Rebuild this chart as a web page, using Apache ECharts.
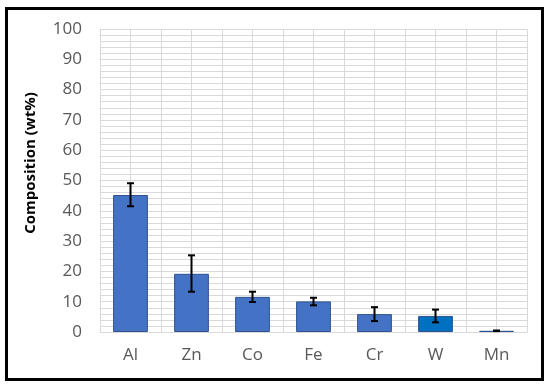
<!DOCTYPE html>
<html>
<head>
<meta charset="utf-8">
<script src="https://cdn.jsdelivr.net/npm/echarts@6/dist/echarts.min.js"></script>
<style>
  html, body { margin: 0; padding: 0; background: #fff; }
  #chart { width: 550px; height: 386px; }
</style>
</head>
<body>
<div id="chart"></div>
<script>
// element composition with std-dev error bars
const elements = ["Al", "Zn", "Co", "Fe", "Cr", "W", "Mn"];
const composition = [45.2, 19.2, 11.6, 10.1, 5.9, 5.3, 0.4];
const errLow = [41.5, 13.3, 9.9, 8.8, 3.6, 3.2, 0.3];
const errHigh = [49.1, 25.3, 13.3, 11.3, 8.2, 7.4, 0.5];
const barColors = ["#4472C4", "#4472C4", "#4472C4", "#4472C4", "#4472C4", "#0070C0", "#4472C4"];

let chartDom = document.getElementById("chart");
let myChart = echarts.init(chartDom);

const font = "'Open Sans', 'Liberation Sans', sans-serif";

let option = {
  animation: false,
  grid: { left: 100, right: 23, top: 29, bottom: 54 },
  graphic: [
    {
      type: "rect",
      shape: { x: 6.5, y: 8.5, width: 536, height: 371 },
      style: { fill: "none", stroke: "#000", lineWidth: 3 },
      z: 100,
    },
    {
      // y axis title, Excel puts it a bit above the plot centre
      type: "text",
      x: 31,
      y: 163,
      rotation: Math.PI / 2,
      style: {
        text: "Composition (wt%)",
        fill: "#000",
        font: "bold 15px " + font,
        align: "center",
        verticalAlign: "middle",
      },
    },
  ],
  xAxis: [
    {
      type: "category",
      data: elements,
      axisLine: { show: true, lineStyle: { color: "#d9d9d9", width: 1 } },
      axisTick: { show: false },
      axisLabel: { color: "#595959", fontSize: 17, fontFamily: font, margin: 15 },
      splitLine: { show: false },
    },
    {
      // hidden helper axis for the vertical gridlines (bounds + centres)
      type: "value",
      min: 0,
      max: 14,
      interval: 1,
      position: "bottom",
      axisLine: { show: false },
      axisTick: { show: false },
      axisLabel: { show: false },
      splitLine: { show: true, lineStyle: { color: "#d9d9d9", width: 1 } },
    },
  ],
  yAxis: {
    type: "value",
    min: 0,
    max: 100,
    interval: 10,
    axisLine: { show: false },
    axisTick: { show: false },
    axisLabel: { color: "#595959", fontSize: 17, fontFamily: font, margin: 18 },
    splitLine: { show: true, lineStyle: { color: "#d9d9d9", width: 1 } },
    minorTick: { show: false, splitNumber: 5 },
    minorSplitLine: { show: true, lineStyle: { color: "#d9d9d9", width: 1 } },
  },
  series: [
    {
      name: "Composition",
      type: "bar",
      xAxisIndex: 0,
      barWidth: "57%",
      data: composition.map((v, i) => ({
        value: v,
        itemStyle: { color: barColors[i] },
      })),
      itemStyle: { borderColor: "#2F528F", borderWidth: 1 },
      z: 3,
    },
    {
      name: "error",
      type: "custom",
      xAxisIndex: 0,
      data: elements.map((e, i) => [i, errLow[i], errHigh[i]]),
      renderItem: function (params, api) {
        const lo = api.coord([api.value(0), api.value(1)]);
        const hi = api.coord([api.value(0), api.value(2)]);
        const hw = 3.5;
        const style = { stroke: "#000", lineWidth: 2 };
        return {
          type: "group",
          children: [
            { type: "line", shape: { x1: hi[0], y1: hi[1], x2: lo[0], y2: lo[1] }, style: style },
            { type: "line", shape: { x1: hi[0] - hw, y1: hi[1], x2: hi[0] + hw, y2: hi[1] }, style: style },
            { type: "line", shape: { x1: lo[0] - hw, y1: lo[1], x2: lo[0] + hw, y2: lo[1] }, style: style },
          ],
        };
      },
      z: 5,
    },
  ],
};

option && myChart.setOption(option);
</script>
</body>
</html>
